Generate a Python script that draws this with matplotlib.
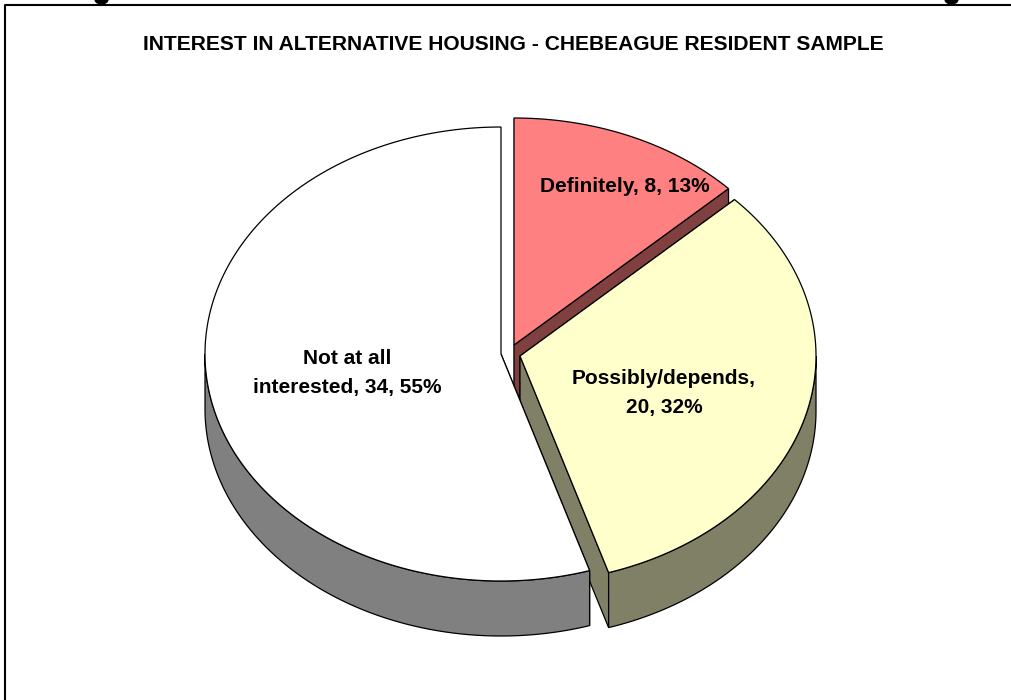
import numpy as np
import matplotlib
matplotlib.use("Agg")
import matplotlib.pyplot as plt
from matplotlib.patches import Polygon, Ellipse

plt.rcParams['font.family'] = ['Liberation Sans', 'DejaVu Sans']

# Data
categories = ["Definitely", "Possibly/depends", "Not at all\ninterested"]
counts = [8, 20, 34]
percents = [13, 32, 55]

title = "INTEREST IN ALTERNATIVE HOUSING - CHEBEAGUE RESIDENT SAMPLE"

# Slice look, in pixels
top_colors = ["#FF8080", "#FFFFCC", "#FFFFFF"]
side_colors = ["#804040", "#808066", "#808080"]
apex = [(514, 345), (520, 356), (501, 354)]
label_pos = [(625, 187), (664, 393), (347, 373)]
label_text = [
    "Definitely, 8, 13%",
    "Possibly/depends,\n20, 32%",
    "Not at all\ninterested, 34, 55%",
]
rx, ry, depth = 296, 227, 55


def rim(cx, cy, t0, t1):
    t = np.radians(np.linspace(t0, t1, 200))
    return np.column_stack([cx + rx * np.sin(t), cy - ry * np.cos(t)])


fig = plt.figure(figsize=(10.11, 7), dpi=100)
ax = fig.add_axes([0, 0, 1, 1])
ax.set_xlim(0, 1011)
ax.set_ylim(700, 0)
ax.axis("off")

# Frame
ax.plot([5, 5, 1011], [700, 5, 5], color="black", lw=1.5, solid_capstyle="butt", zorder=20)

# Tails of the clipped heading above the frame
for x in [101.5, 951.5]:
    ax.add_patch(Ellipse((x, 0), 14, 9, fc="black", ec="none", zorder=19))

ax.text(513, 45, title, fontsize=15.1, fontweight="bold", ha="center", va="center")

start = 0.0
total = sum(counts)
for i, value in enumerate(counts):
    end = start + 360.0 * value / total
    cx, cy = apex[i]
    z = 2 + i * 2
    outline = rim(cx, cy, start, end)

    # cut walls that face the viewer
    if start < 180:
        p = outline[0]
        wall = [(cx, cy), p, (p[0], p[1] + depth), (cx, cy + depth)]
        ax.add_patch(Polygon(wall, fc=side_colors[i], ec="black", lw=0.9, zorder=z))
    if end < 180:
        p = outline[-1]
        wall = [(cx, cy), p, (p[0], p[1] + depth), (cx, cy + depth)]
        ax.add_patch(Polygon(wall, fc=side_colors[i], ec="black", lw=0.9, zorder=z))

    # outer wall, only the front half shows
    a, b = max(start, 90), min(end, 270)
    if a < b:
        front = rim(cx, cy, a, b)
        lower = front[::-1] + [0, depth]
        ax.add_patch(Polygon(np.vstack([front, lower]), fc=side_colors[i], ec="black", lw=0.9, zorder=z))

    top = np.vstack([[(cx, cy)], outline])
    ax.add_patch(Polygon(top, fc=top_colors[i], ec="black", lw=0.9, zorder=z + 1))
    start = end

for (x, y), s in zip(label_pos, label_text):
    ax.text(x, y, s, fontsize=15, fontweight="bold", ha="center", va="center",
            linespacing=1.6, zorder=15)

fig.savefig("out.png", dpi=100)
